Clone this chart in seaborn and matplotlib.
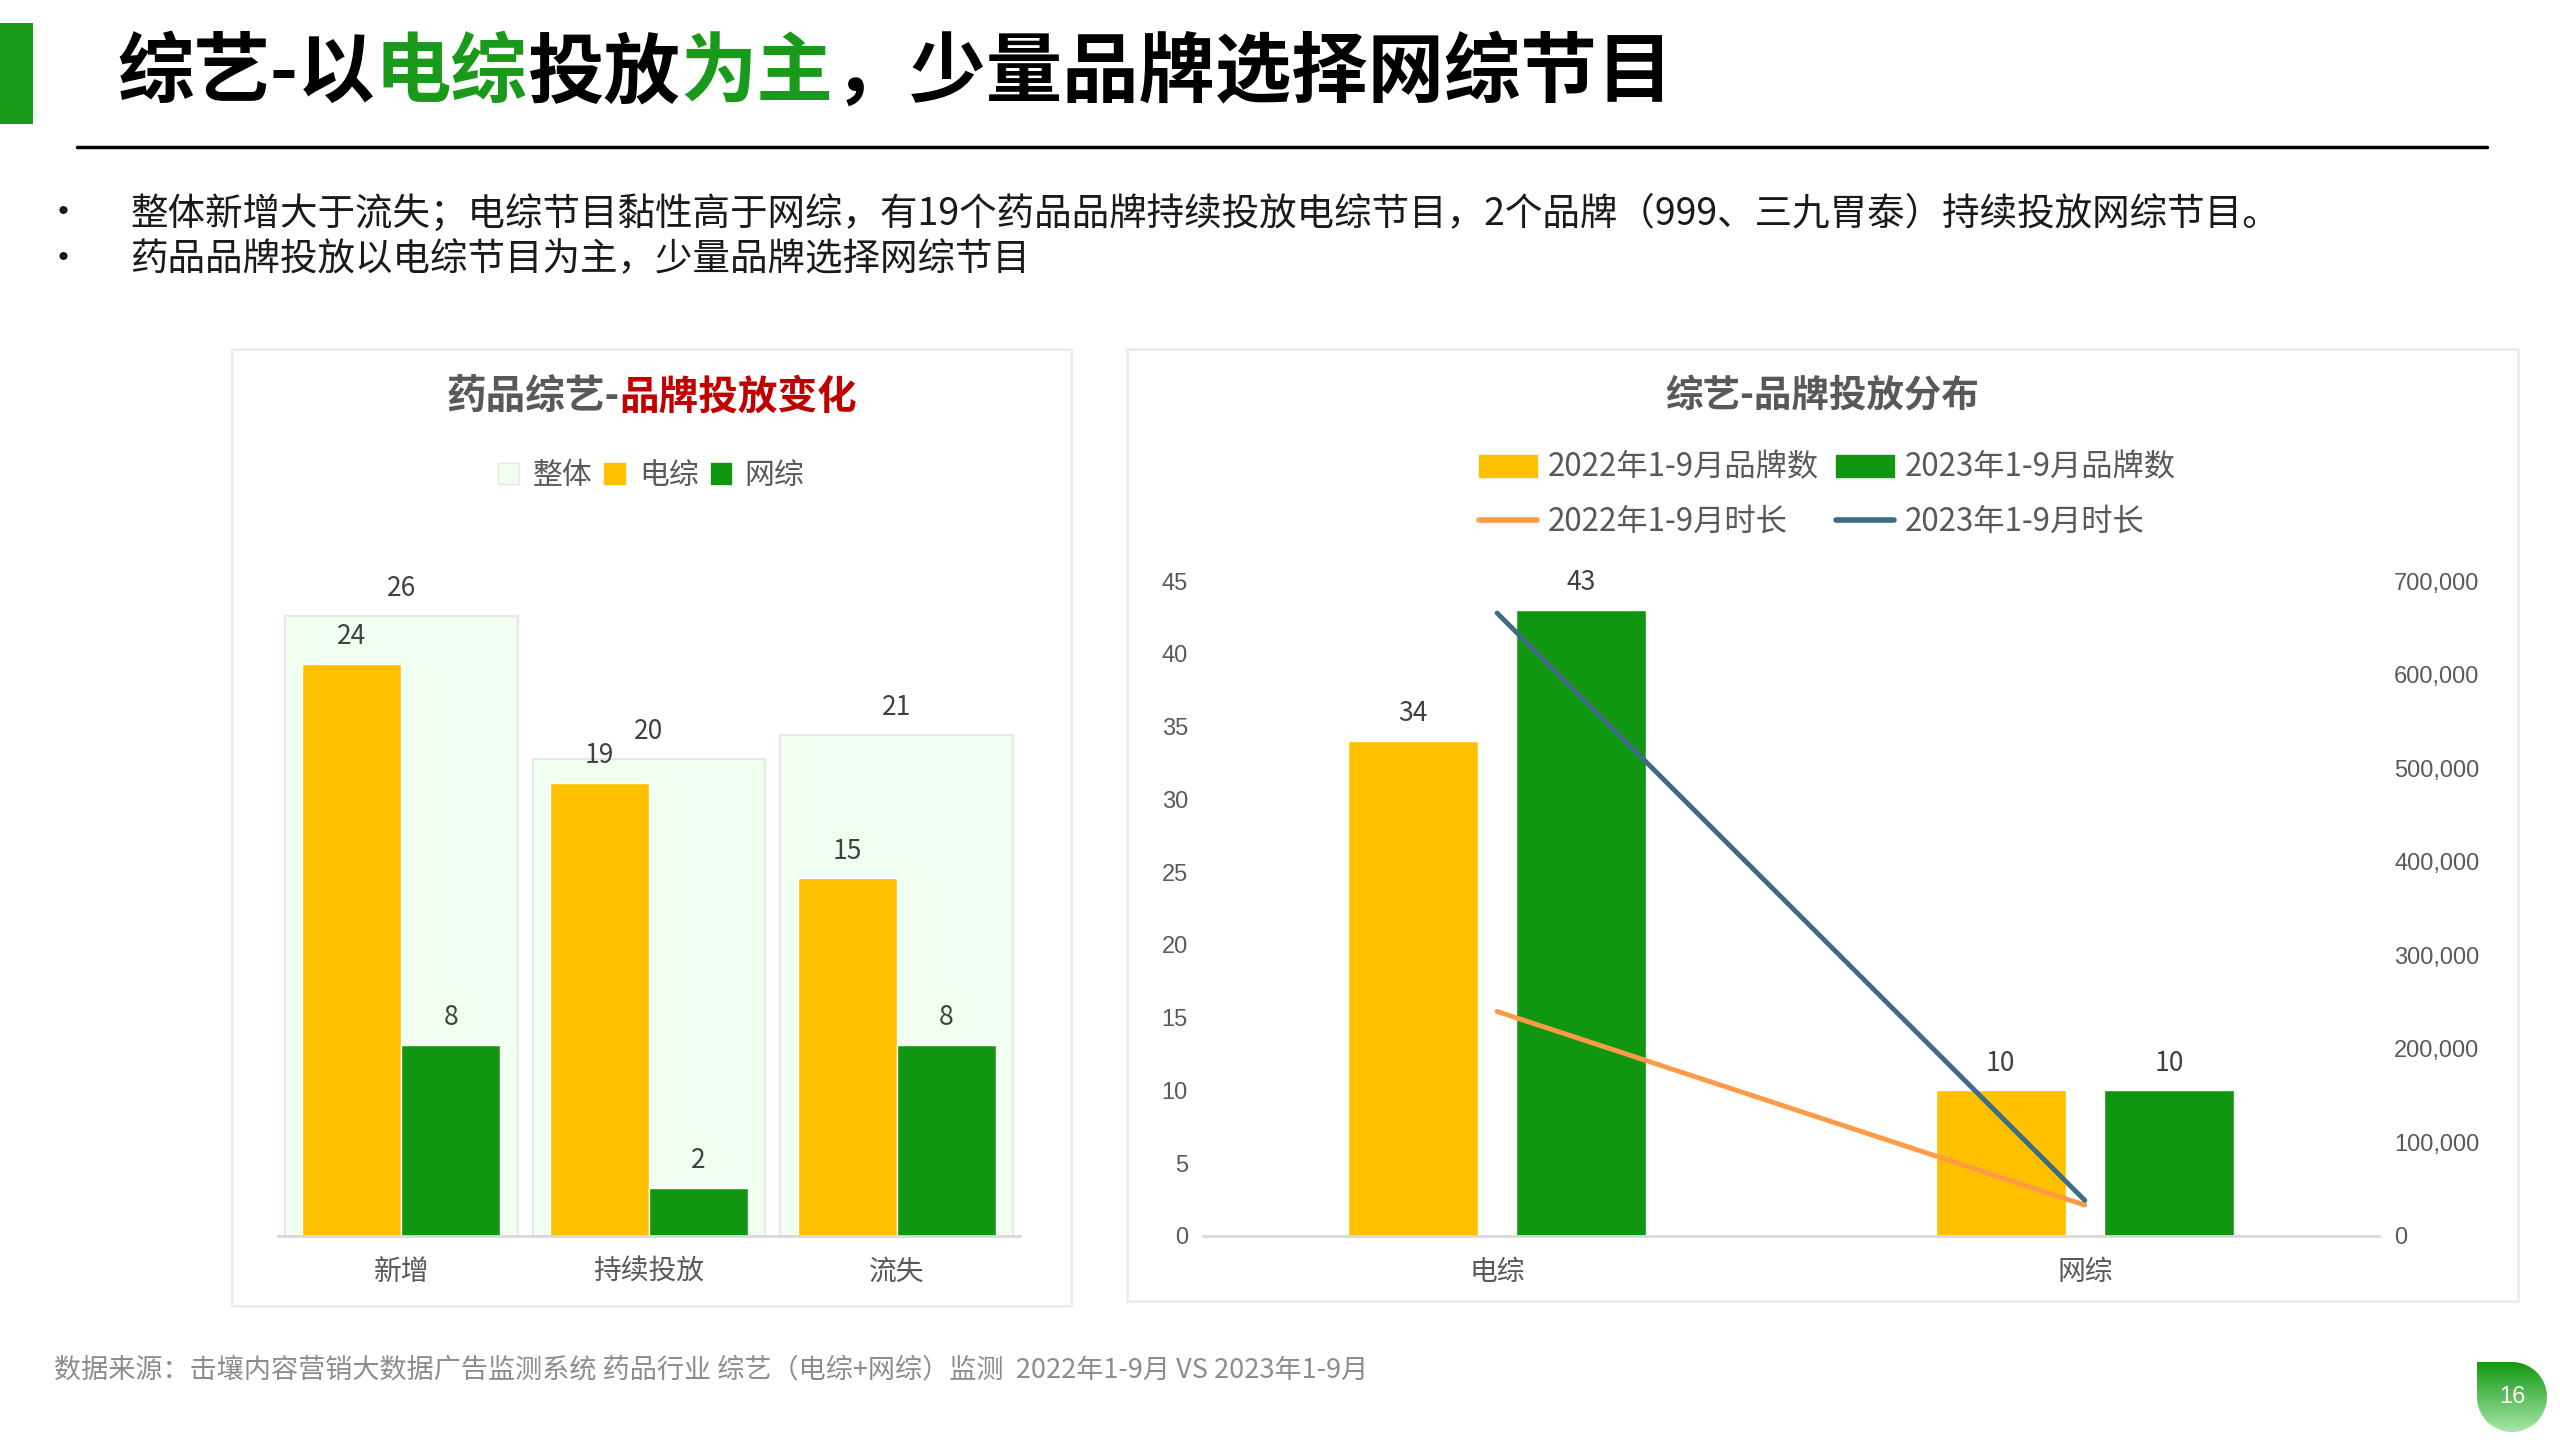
import matplotlib
matplotlib.use("Agg")
import matplotlib.pyplot as plt
import seaborn as sns
import pandas as pd
import numpy as np
from matplotlib.patches import Patch, Rectangle, Circle
from matplotlib.lines import Line2D
from matplotlib.ticker import MultipleLocator, FuncFormatter

# ==============================
# data
# ==============================
left_cats = ["新增", "持续投放", "流失"]
left_total = [26, 20, 21]
left_tv = [24, 19, 15]
left_web = [8, 2, 8]

right_cats = ["电综", "网综"]
brands_2022 = [34, 10]
brands_2023 = [43, 10]
hours_2022 = [240000, 33000]
hours_2023 = [666000, 38000]

YELLOW = "#FFC000"
GREEN = "#119611"
PALE = "#F0FFF0"
ORANGE = "#FF9A45"
BLUE = "#3E6B85"
GRAY = "#595959"
TITLE_GREEN = "#1A9A1A"

sns.set_theme(style="white")
plt.rcParams["font.family"] = ["Noto Sans CJK SC", "DejaVu Sans"]

fig = plt.figure(figsize=(25.6, 14.4), dpi=100)

# background layer in pixel coords
bg = fig.add_axes([0, 0, 1, 1])
bg.set_xlim(0, 2560)
bg.set_ylim(0, 1440)
bg.axis("off")

bg.add_patch(Rectangle((0, 1316), 33, 101, color=TITLE_GREEN, lw=0))
bg.plot([77, 2487], [1293, 1293], color="#000000", lw=2.5)
bg.add_patch(Rectangle((232, 134), 839, 957, fill=False, ec="#ececec", lw=2))
bg.add_patch(Rectangle((1127, 139), 1391, 952, fill=False, ec="#ececec", lw=2))

# page number drop
cx, cy, r = 2512, 43, 35
grad = np.linspace(0, 1, 100).reshape(-1, 1)
cmap = matplotlib.colors.LinearSegmentedColormap.from_list("g", ["#a8e6a8", "#139913"])
for clip in [Circle((cx, cy), r, transform=bg.transData),
             Rectangle((cx - r, cy), r, r, transform=bg.transData)]:
    im = bg.imshow(grad, cmap=cmap, extent=(cx - r, cx + r, cy - r, cy + r),
                   origin="lower", aspect="auto")
    im.set_clip_path(clip)
bg.text(cx, cy, "16", color="white", fontsize=17, ha="center", va="center",
        family=["Liberation Sans", "DejaVu Sans"])
bg.set_xlim(0, 2560)
bg.set_ylim(0, 1440)


def rich_text(x, y, parts, ha="left", **kw):
    rend = fig.canvas.get_renderer()
    texts = [fig.text(x, y, s, color=c, va="center", ha="left", **kw) for s, c in parts]
    widths = [t.get_window_extent(rend).width / fig.bbox.width for t in texts]
    start = x - sum(widths) / 2 if ha == "center" else x
    for t, w in zip(texts, widths):
        t.set_x(start)
        start += w


# ==============================
# header text
# ==============================
rich_text(0.0459, 0.949, [("综艺-以", "#000000"), ("电综", TITLE_GREEN), ("投放", "#000000"),
                          ("为主", TITLE_GREEN), ("，少量品牌选择网综节目", "#000000")],
          fontsize=55, weight="bold")

bullets = ["整体新增大于流失；电综节目黏性高于网综，有19个药品品牌持续投放电综节目，2个品牌（999、三九胃泰）持续投放网综节目。",
           "药品品牌投放以电综节目为主，少量品牌选择网综节目"]
for i, b in enumerate(bullets):
    y = 0.8515 - i * 0.0318
    fig.text(0.0245, y, "•", fontsize=28, va="center", ha="center", color="#1a1a1a")
    fig.text(0.051, y, b, fontsize=27, va="center", color="#1a1a1a")

fig.text(0.021, 0.0488, "数据来源：击壤内容营销大数据广告监测系统 药品行业 综艺（电综+网综）监测  2022年1-9月 VS 2023年1-9月",
         fontsize=19.5, va="center", color="#8c8c8c")

# ==============================
# left chart
# ==============================
ax1 = fig.add_axes([0.1084, 0.1417, 0.2902, 0.4966])
sns.barplot(x=left_cats, y=left_total, color=PALE, edgecolor="#e8e8e8", linewidth=1.5,
            width=0.94, saturation=1, errorbar=None, ax=ax1)
df_left = pd.DataFrame({"cat": left_cats * 2, "val": left_tv + left_web,
                        "kind": ["电综"] * 3 + ["网综"] * 3})
sns.barplot(data=df_left, x="cat", y="val", hue="kind", palette=[YELLOW, GREEN],
            width=0.8, gap=0, saturation=1, errorbar=None, ax=ax1, legend=False)
for c in ax1.containers:
    ax1.bar_label(c, padding=10, fontsize=19, color="#404040")
ax1.set_xlim(-0.5, 2.5)
ax1.set_ylim(0, 30)
ax1.set_yticks([])
ax1.set_xlabel("")
ax1.set_ylabel("")
for s in ["top", "left", "right"]:
    ax1.spines[s].set_visible(False)
ax1.spines["bottom"].set_color("#d9d9d9")
ax1.spines["bottom"].set_linewidth(2)
ax1.tick_params(axis="x", labelsize=20, labelcolor=GRAY, length=0, pad=15)

rich_text(0.2545, 0.7245, [("药品综艺-", GRAY), ("品牌投放变化", "#C00000")],
          ha="center", fontsize=28.5, weight="bold")
fig.legend(handles=[Patch(fc=PALE, ec="#e6e6e6"), Patch(color=YELLOW), Patch(color=GREEN)],
           labels=["整体", "电综", "网综"], loc="center", bbox_to_anchor=(0.2545, 0.670),
           ncol=3, frameon=False, fontsize=21.5, handlelength=0.7, handleheight=0.7,
           handletextpad=0.45, columnspacing=0.4, labelcolor=GRAY)

# ==============================
# right chart
# ==============================
ax2 = fig.add_axes([0.470, 0.1417, 0.4592, 0.4547])
df_right = pd.DataFrame({"cat": right_cats * 2, "val": brands_2022 + brands_2023,
                         "year": ["2022年1-9月品牌数"] * 2 + ["2023年1-9月品牌数"] * 2})
sns.barplot(data=df_right, x="cat", y="val", hue="year", palette=[YELLOW, GREEN],
            width=0.572, gap=0.223, saturation=1, errorbar=None, ax=ax2, legend=False)
for c in ax2.containers:
    ax2.bar_label(c, padding=10, fontsize=19, color="#404040")
ax2.set_ylim(0, 45)
ax2.yaxis.set_major_locator(MultipleLocator(5))
ax2.set_xlabel("")
ax2.set_ylabel("")

ax3 = ax2.twinx()
sns.lineplot(x=right_cats, y=hours_2022, color=ORANGE, lw=3.5, sort=False,
             solid_capstyle="round", ax=ax3)
sns.lineplot(x=right_cats, y=hours_2023, color=BLUE, lw=3.5, sort=False,
             solid_capstyle="round", ax=ax3)
ax3.set_ylim(0, 700000)
ax3.yaxis.set_major_locator(MultipleLocator(100000))
ax3.yaxis.set_major_formatter(FuncFormatter(lambda v, p: f"{v:,.0f}"))
ax3.set_ylabel("")
ax2.set_xlim(-0.5, 1.5)

for a in (ax2, ax3):
    for s in ["top", "left", "right"]:
        a.spines[s].set_visible(False)
    a.grid(False)
ax3.spines["bottom"].set_visible(False)
ax2.spines["bottom"].set_color("#d9d9d9")
ax2.spines["bottom"].set_linewidth(2)
ax2.tick_params(axis="x", labelsize=20, labelcolor=GRAY, length=0, pad=15)
for a in (ax2, ax3):
    a.tick_params(axis="y", labelsize=17, labelcolor=GRAY, length=0, pad=11)
    for lab in a.get_yticklabels():
        lab.set_family(["Liberation Sans", "DejaVu Sans"])

fig.text(0.7117, 0.7256, "综艺-品牌投放分布", fontsize=27, weight="bold", color=GRAY,
         ha="center", va="center")
fig.legend(handles=[Patch(color=YELLOW), Line2D([], [], color=ORANGE, lw=4),
                    Patch(color=GREEN), Line2D([], [], color=BLUE, lw=4)],
           labels=["2022年1-9月品牌数", "2022年1-9月时长", "2023年1-9月品牌数", "2023年1-9月时长"],
           loc="center", bbox_to_anchor=(0.714, 0.6565), ncol=2, frameon=False, fontsize=22.5,
           handlelength=1.85, handleheight=0.7, handletextpad=0.35, columnspacing=0.55,
           labelspacing=0.7, labelcolor=GRAY)

fig.savefig("out.png", dpi=100)
